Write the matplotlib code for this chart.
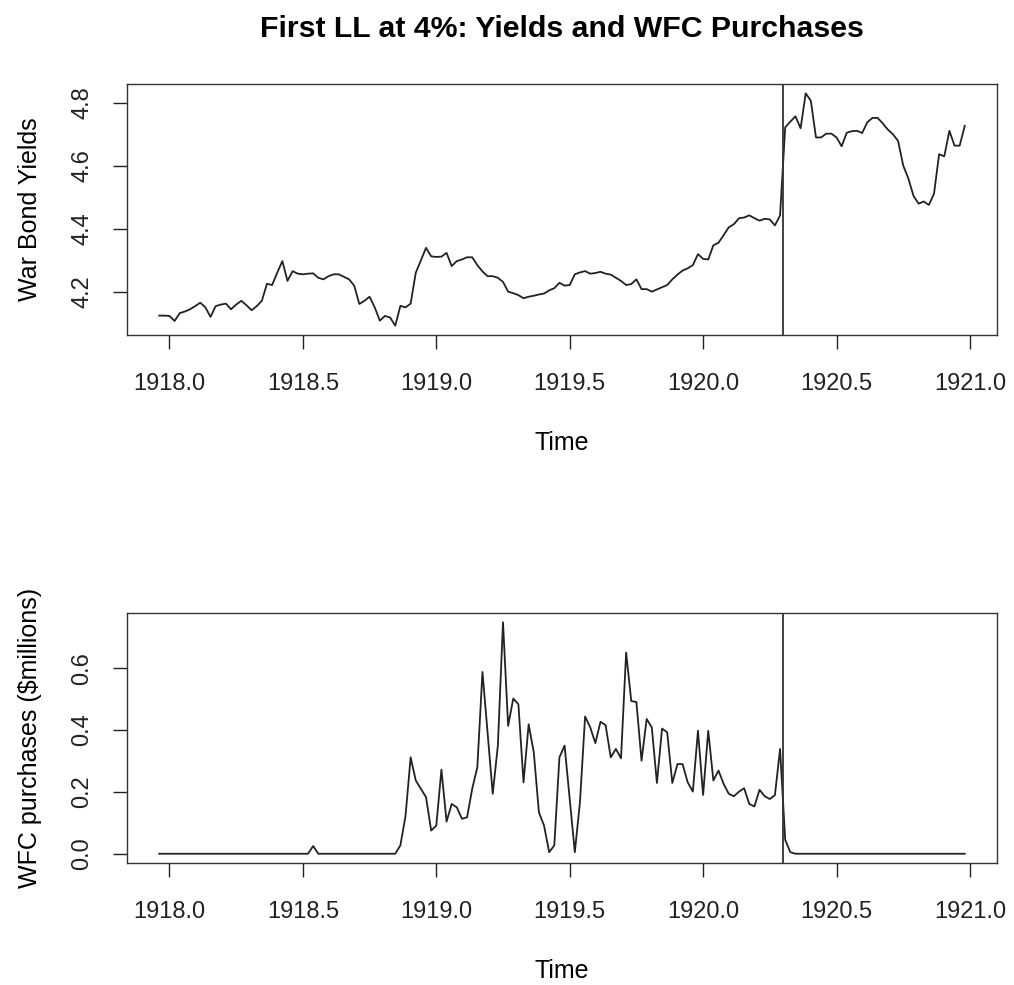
import numpy as np
import matplotlib
matplotlib.use("Agg")
import matplotlib.pyplot as plt

plt.rcParams['font.family'] = ['Liberation Sans', 'DejaVu Sans']

# weekly series, first obs 2 weeks before 1918.0
start = 1918 - 2 / 52
freq = 52

yields = [
    4.125, 4.125, 4.124, 4.108, 4.133, 4.138, 4.145, 4.155, 4.166, 4.151,
    4.121, 4.155, 4.160, 4.163, 4.145, 4.160, 4.172, 4.158, 4.142, 4.155,
    4.172, 4.226, 4.222, 4.261, 4.298, 4.235, 4.266, 4.258, 4.256, 4.258,
    4.259, 4.245, 4.240, 4.250, 4.256, 4.256, 4.248, 4.240, 4.220, 4.162,
    4.172, 4.185, 4.151, 4.109, 4.124, 4.119, 4.093, 4.156, 4.151, 4.163,
    4.261, 4.300, 4.340, 4.313, 4.311, 4.312, 4.324, 4.282, 4.298, 4.303,
    4.310, 4.310, 4.285, 4.265, 4.250, 4.250, 4.245, 4.232, 4.201, 4.196,
    4.190, 4.180, 4.185, 4.188, 4.192, 4.195, 4.205, 4.212, 4.229, 4.220,
    4.222, 4.256, 4.262, 4.266, 4.258, 4.260, 4.264, 4.258, 4.255, 4.245,
    4.235, 4.222, 4.225, 4.240, 4.209, 4.209, 4.201, 4.208, 4.215, 4.222,
    4.240, 4.255, 4.268, 4.275, 4.285, 4.320, 4.305, 4.303, 4.348, 4.356,
    4.380, 4.405, 4.415, 4.434, 4.436, 4.443, 4.434, 4.426, 4.432, 4.430,
    4.411, 4.443, 4.722, 4.740, 4.757, 4.719, 4.830, 4.806, 4.690, 4.690,
    4.702, 4.702, 4.690, 4.662, 4.705, 4.710, 4.711, 4.704, 4.738, 4.752,
    4.752, 4.735, 4.715, 4.700, 4.679, 4.601, 4.560, 4.505, 4.480, 4.487,
    4.476, 4.511, 4.637, 4.630, 4.711, 4.664, 4.664, 4.727,
]

purchases = [0.0] * 30 + [0.025] + [0.0] * 16 + [
    0.027, 0.122, 0.312, 0.237, 0.210, 0.183, 0.075, 0.091, 0.272, 0.104,
    0.161, 0.150, 0.113, 0.118, 0.210, 0.280, 0.588, 0.390, 0.194, 0.350,
    0.749, 0.414, 0.502, 0.484, 0.231, 0.419, 0.328, 0.134, 0.091, 0.005,
    0.027, 0.312, 0.350, 0.177, 0.005, 0.167, 0.444, 0.409, 0.358, 0.427,
    0.416, 0.312, 0.339, 0.309, 0.651, 0.494, 0.491, 0.301, 0.436, 0.409,
    0.229, 0.405, 0.393, 0.229, 0.290, 0.290, 0.231, 0.201, 0.398, 0.190,
    0.398, 0.237, 0.269, 0.226, 0.194, 0.186, 0.201, 0.212, 0.161, 0.153,
    0.207, 0.186, 0.177, 0.190, 0.339, 0.045, 0.005,
]
purchases = purchases + [0.0] * (len(yields) - len(purchases))

event = 1920.3
xticks = [1918.0, 1918.5, 1919.0, 1919.5, 1920.0, 1920.5, 1921.0]
yticks_top = [4.2, 4.4, 4.6, 4.8]
yticks_bot = [0.0, 0.2, 0.4, 0.6]

t = start + np.arange(len(yields)) / freq

fig = plt.figure(figsize=(10.14, 9.85), dpi=100)
ax1 = fig.add_axes([127 / 1014, 1 - 335 / 985, 870 / 1014, 251 / 985])
ax2 = fig.add_axes([127 / 1014, 1 - 863 / 985, 870 / 1014, 250 / 985])

fs = 17
for ax, y, lab, yt in [(ax1, yields, "War Bond Yields", yticks_top),
                       (ax2, purchases, "WFC purchases ($millions)", yticks_bot)]:
    ax.plot(t, y, color="#222222", lw=1.3)
    ax.margins(x=0.04, y=0.04)
    ax.axvline(event, color="#333333", lw=1.3)
    ax.set_xticks(xticks)
    ax.set_xticklabels([f"{v:.1f}" for v in xticks])
    ax.set_yticks(yt)
    ax.set_yticklabels([f"{v:.1f}" for v in yt], rotation=90, va="center")
    ax.tick_params(direction="out", length=10.4, width=1.0, labelsize=fs, colors="#222222")
    ax.tick_params(axis="x", pad=17)
    ax.tick_params(axis="y", pad=14)
    ax.set_xlabel("Time", fontsize=18, labelpad=26)
    ax.set_ylabel(lab, fontsize=18, labelpad=21)
    for s in ax.spines.values():
        s.set_linewidth(1.0)
        s.set_color("#333333")

# title centred over the plot region, like R's outer title
fig.text(562 / 1014, 1 - 29 / 985, "First LL at 4%: Yields and WFC Purchases",
         ha="center", va="center", fontsize=21.8, fontweight="bold")

fig.savefig("out.png", dpi=100)
